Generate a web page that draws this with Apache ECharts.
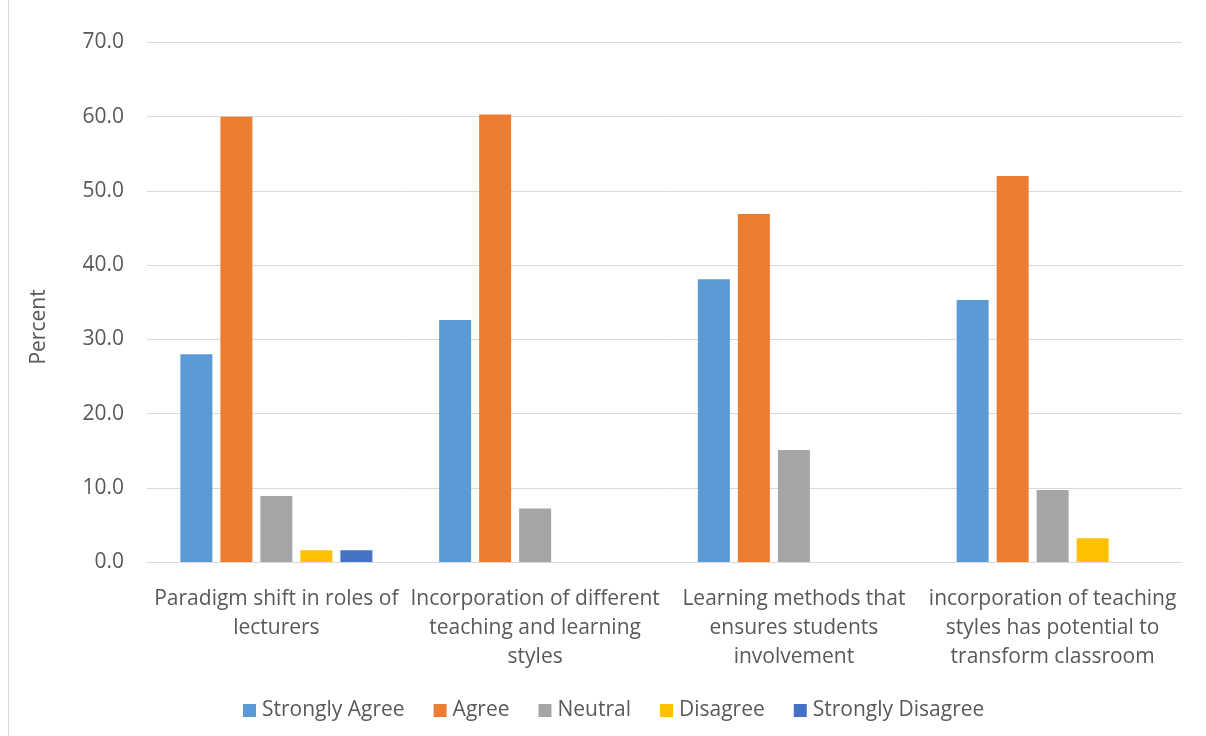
<!DOCTYPE html>
<html>
<head>
<meta charset="utf-8">
<title>Survey responses</title>
<script src="https://cdn.jsdelivr.net/npm/echarts@6/dist/echarts.min.js"></script>
<style>
  html, body { margin: 0; padding: 0; background: #ffffff; }
  #chart { width: 1206px; height: 736px; }
</style>
</head>
<body>
<div id="chart"></div>
<script>
// Statement categories (x axis)
const categories = [
  'Paradigm shift in roles of\nlecturers',
  'Incorporation of different\nteaching and learning\nstyles',
  'Learning methods that\nensures students\ninvolvement',
  'incorporation of teaching\nstyles has potential to\ntransform classroom'
];

// Response percentages per category
const stronglyAgree    = [28.0, 32.6, 38.1, 35.3];
const agree            = [60.0, 60.3, 46.9, 52.0];
const neutral          = [8.9, 7.2, 15.1, 9.7];
const disagree         = [1.6, null, null, 3.2];
const stronglyDisagree = [1.6, null, null, null];

const seriesNames = ['Strongly Agree', 'Agree', 'Neutral', 'Disagree', 'Strongly Disagree'];
const seriesData = [stronglyAgree, agree, neutral, disagree, stronglyDisagree];
const seriesColors = ['#5B9BD5', '#ED7D31', '#A5A5A5', '#FFC000', '#4472C4'];

// Y axis ticks
const yMin = 0, yMax = 70, yStep = 10;

const FONT = '"Open Sans", "Noto Sans", sans-serif';
const TEXT = '#595959';
const FS = 21;

const chart = echarts.init(document.getElementById('chart'), null, { renderer: 'canvas' });

chart.setOption({
  animation: false,
  backgroundColor: '#ffffff',
  textStyle: { fontFamily: FONT },
  grid: { left: 147, right: 24, top: 42.5, bottom: 174, containLabel: false },
  legend: {
    data: seriesNames,
    left: 243,
    top: 700,
    padding: 0,
    icon: 'rect',
    itemWidth: 13,
    itemHeight: 13,
    itemGap: 29,
    textStyle: { color: TEXT, fontSize: FS, fontFamily: FONT, padding: [0, 0, 0, 1] }
  },
  xAxis: {
    type: 'category',
    data: categories,
    axisLine: { show: true, lineStyle: { color: '#d9d9d9', width: 1 } },
    axisTick: { show: false },
    axisLabel: {
      interval: 0,
      color: TEXT,
      fontSize: FS,
      fontFamily: FONT,
      lineHeight: 29,
      margin: 23,
      align: 'center'
    }
  },
  yAxis: {
    type: 'value',
    min: yMin,
    max: yMax,
    interval: yStep,
    axisLine: { show: false },
    axisTick: { show: false },
    splitLine: { show: true, lineStyle: { color: '#d9d9d9', width: 1 } },
    axisLabel: {
      color: TEXT,
      fontSize: FS,
      fontFamily: FONT,
      margin: 23,
      formatter: v => v.toFixed(1)
    }
  },
  graphic: [
    {
      type: 'line',
      shape: { x1: 8.5, y1: 0, x2: 8.5, y2: 736 },
      style: { stroke: '#d9d9d9', lineWidth: 1 }
    },
    {
      type: 'text',
      x: 39,
      y: 327,
      rotation: Math.PI / 2,
      style: {
        text: 'Percent',
        fill: TEXT,
        font: FS + 'px ' + FONT,
        textAlign: 'center',
        textVerticalAlign: 'middle'
      }
    }
  ],
  series: seriesNames.map((name, i) => ({
    name: name,
    type: 'bar',
    data: seriesData[i],
    barWidth: 32,
    barGap: '25%',
    itemStyle: { color: seriesColors[i] }
  }))
});
</script>
</body>
</html>
